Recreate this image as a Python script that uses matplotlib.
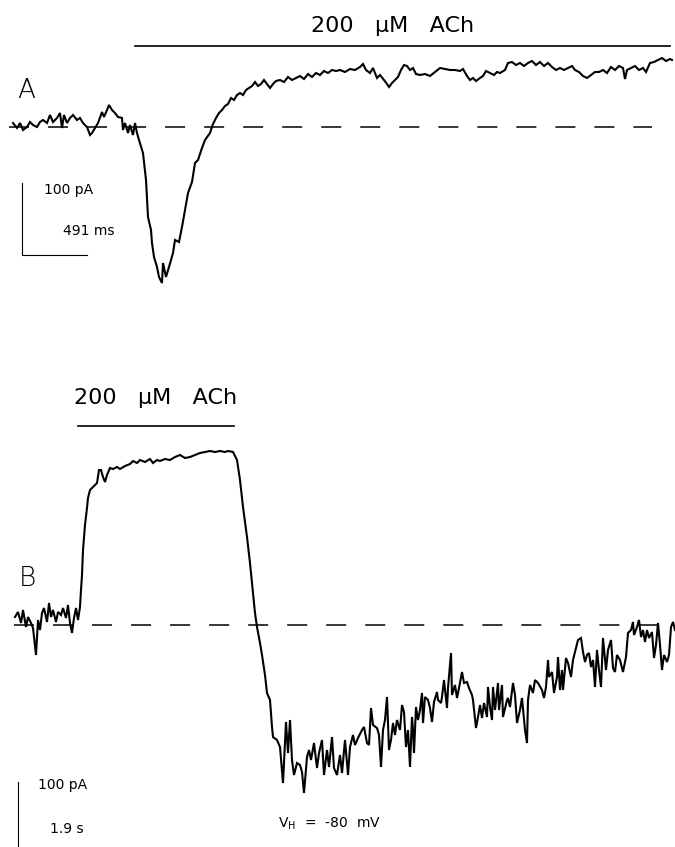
import matplotlib
matplotlib.use("Agg")
import matplotlib.pyplot as plt

plt.rcParams['lines.scale_dashes'] = False
plt.rcParams['font.family'] = ['DejaVu Sans']

# ---- Trace A (time, current) (image units, y downward) ----
a_t = [13, 17, 20, 23, 27, 30, 33, 37, 40, 43, 47, 50, 53, 57, 60, 62, 64, 67, 70, 73,
       77, 80, 83, 87, 90, 92, 95, 98, 102, 104, 107, 109, 112, 115, 118, 122, 123, 125,
       128, 130, 133, 135, 137, 139, 142, 143, 146, 148, 151, 152, 154, 157, 159, 162,
       163, 166, 169, 173, 175, 179, 182, 185, 188, 192, 195, 198, 202, 205, 210,
       213, 216, 219, 222, 225, 228, 231, 234, 237, 240, 243, 246, 249, 252, 255, 258,
       261, 264, 267, 270, 273, 276, 280, 284, 288, 292, 296, 300, 304, 308, 312, 316,
       320, 324, 328, 332, 336, 340, 345, 350, 355, 360, 363, 366, 370, 373, 377, 380,
       384, 387, 389, 392, 395, 398, 401, 404, 407, 410, 413, 416, 420, 425, 430, 435,
       440, 445, 450, 455, 460, 463, 467, 470, 473, 476, 480, 483, 486, 490, 494, 497,
       500, 505, 508, 512, 516, 520, 524, 528, 532, 536, 540, 544, 548, 552, 556, 560,
       564, 568, 572, 575, 579, 583, 587, 591, 595, 599, 603, 607, 611, 615, 619, 623,
       625, 627, 631, 635, 639, 643, 646, 650, 654, 658, 662, 666, 670, 672]
a_i = [123, 128, 123, 130, 127, 122, 125, 127, 122, 120, 123, 115, 122, 118, 113, 128,
       115, 123, 118, 115, 120, 118, 123, 127, 135, 133, 128, 123, 112, 117, 110, 105,
       110, 113, 117, 118, 130, 123, 133, 125, 135, 123, 133, 140, 150, 153, 180, 217,
       230, 243, 257, 267, 277, 283, 263, 277, 267, 253, 240, 242, 227, 210, 193, 182,
       163, 160, 148, 140, 133,
       124, 118, 113, 110, 106, 104, 98, 100, 95, 93, 95, 90, 88, 86, 82, 86,
       84, 80, 84, 88, 84, 81, 80, 82, 77, 80, 78, 76, 79, 74, 77, 73,
       75, 71, 73, 70, 71, 70, 72, 69, 70, 67, 64, 70, 73, 68, 78, 75,
       80, 84, 87, 83, 80, 77, 70, 65, 66, 70, 68, 74, 75, 74, 76, 72,
       68, 69, 70, 70, 71, 69, 76, 80, 78, 81, 78, 76, 71, 73, 75, 72,
       73, 70, 63, 62, 65, 63, 66, 63, 61, 65, 62, 66, 63, 67, 70, 68,
       70, 68, 66, 70, 72, 76, 78, 75, 72, 72, 70, 73, 67, 70, 66, 68,
       79, 70, 68, 66, 70, 68, 72, 63, 62, 60, 58, 61, 59, 60]

# ---- Trace B ----
b_t = [15, 18, 21, 23, 26, 28, 31, 33, 36, 38, 40, 42, 44, 47, 49, 51, 53, 56, 58, 61,
       63, 66, 68, 70, 72, 74, 76, 78, 80, 81, 82, 83, 85, 87, 88, 90, 93, 97, 99, 101,
       103, 105, 107, 110, 113, 117, 120, 125, 130, 133, 137, 140, 145, 150, 153, 157,
       160, 165, 170, 175, 180, 185, 190, 195, 200, 205, 210, 215, 220, 225, 228, 233,
       237, 240, 243, 247, 250, 253, 255, 257, 260, 262, 265, 267, 270, 272, 273, 277,
       280, 283, 286, 288, 290, 292, 294, 297, 300, 302, 304, 307, 309, 311, 314, 317,
       319, 322, 324, 327, 329, 332, 334, 337, 340, 342, 345, 348, 350, 353, 355, 358,
       362, 364, 367, 369, 371, 373, 377, 379, 381, 383, 385, 387, 389, 391, 393, 395,
       397, 400, 402, 404, 406, 408, 410, 412, 413, 414, 416, 418, 420, 422, 423, 425,
       428, 430, 432, 434, 437, 438, 441, 442, 444, 447, 448, 451, 452, 455, 457, 459,
       462, 464, 467, 469, 472, 473, 476, 478, 480, 482, 484, 487, 488, 490, 492, 493,
       495, 498, 499, 502, 503, 507, 508, 510, 513, 515, 517, 520, 522, 525, 527, 528,
       530, 533, 535, 538, 542, 544, 546, 548, 549, 552, 554, 557, 558, 560, 562, 563,
       566, 568, 571, 573, 576, 578, 581, 583, 585, 587, 589, 591, 593, 595, 597, 599,
       601, 603, 606, 608, 611, 613, 615, 617, 620, 623, 626, 628, 631, 633, 634, 637,
       639, 641, 643, 645, 647, 649, 652, 654, 656, 658, 660, 662, 664, 667, 669, 671,
       673, 675]
b_i = [617, 612, 623, 610, 627, 617, 623, 628, 655, 620, 630, 613, 608, 622, 603, 617,
       610, 622, 612, 615, 608, 618, 605, 623, 633, 618, 608, 620, 607, 590, 575, 550,
       525, 508, 498, 490, 487, 483, 470, 470, 477, 482, 475, 468, 469, 467, 469, 466,
       464, 461, 463, 460, 462, 459, 463, 460, 461, 459, 460, 457, 455, 458, 457, 455,
       453, 452, 451, 452, 451, 452, 451, 452, 460, 480, 507, 537, 563, 593, 613, 627,
       643, 655, 675, 693, 700, 727, 737, 740, 747, 783, 722, 753, 720, 760, 775, 763,
       765, 772, 793, 757, 750, 760, 743, 768, 753, 740, 775, 750, 767, 737, 768, 775,
       755, 773, 740, 775, 747, 735, 745, 738, 730, 727, 743, 745, 708, 725, 728, 735,
       767, 730, 720, 697, 750, 740, 723, 735, 720, 730, 705, 712, 747, 730, 767, 717,
       730, 753, 707, 720, 710, 693, 723, 697, 700, 708, 722, 702, 692, 700, 703, 697,
       680, 708, 688, 653, 695, 685, 698, 688, 672, 683, 682, 688, 695, 700, 728, 717,
       705, 718, 703, 717, 687, 707, 720, 687, 710, 683, 710, 685, 717, 700, 698, 707,
       683, 695, 723, 710, 698, 730, 743, 700, 685, 693, 680, 683, 690, 698, 687, 660,
       677, 672, 693, 677, 657, 690, 670, 690, 658, 663, 677, 660, 648, 640, 638, 652,
       662, 655, 653, 667, 660, 687, 650, 670, 687, 638, 670, 650, 640, 668, 672, 655,
       660, 672, 657, 633, 630, 622, 635, 627, 620, 637, 630, 642, 630, 638, 632, 658,
       645, 623, 645, 670, 655, 662, 655, 627, 622, 630]

# ---- Annotation values ----
ach_label = "200   μM   ACh"
a_bar = (135, 670, 46)     # x-start, x-end, level of ACh application bar (panel A)
b_bar = (78, 234, 426)
a_base = 127
b_base = 625
a_scale_labels = ["100 pA", "491 ms"]
b_scale_labels = ["100 pA", "1.9 s"]
vh_label = r"V$_\mathregular{H}$  =  -80  mV"

W, H = 675, 847
fig = plt.figure(figsize=(W / 100, H / 100), dpi=100)
ax = fig.add_axes([0, 0, 1, 1])
ax.set_xlim(0, W)
ax.set_ylim(H, 0)
ax.axis('off')

k = 'black'
# traces
ax.plot(a_t, a_i, color=k, lw=1.5, solid_joinstyle='miter')
ax.plot(b_t, b_i, color=k, lw=1.5, solid_joinstyle='miter')

# baselines (dashed)
dash = (0, (14.4, 13.7))
ax.plot([9, 652], [a_base, a_base], color=k, lw=1.1, linestyle=dash)
ax.plot([14, 660], [b_base, b_base], color=k, lw=1.1, linestyle=dash)

# application bars
ax.plot([a_bar[0], a_bar[1]], [a_bar[2], a_bar[2]], color=k, lw=1.2)
ax.plot([b_bar[0], b_bar[1]], [b_bar[2], b_bar[2]], color=k, lw=1.2)

tfont = dict(family='DejaVu Sans', color=k)
ax.text(393, 26, ach_label, fontsize=16, ha='center', va='center', **tfont)
ax.text(156, 398, ach_label, fontsize=16, ha='center', va='center', **tfont)

# panel letters
ax.text(26, 91, "A", fontsize=19, ha='center', va='center', fontweight='light', **tfont)
ax.text(27, 579, "B", fontsize=19, ha='center', va='center', fontweight='light', **tfont)

# scale bars panel A
ax.plot([22, 22, 87], [183, 255, 255], color=k, lw=0.8)
ax.text(69, 190, a_scale_labels[0], fontsize=10, ha='center', va='center', **tfont)
ax.text(89, 231, a_scale_labels[1], fontsize=10, ha='center', va='center', **tfont)

# scale bar panel B
ax.plot([18, 18], [782, 847], color=k, lw=0.8)
ax.text(63, 785, b_scale_labels[0], fontsize=10, ha='center', va='center', **tfont)
ax.text(67, 829, b_scale_labels[1], fontsize=10, ha='center', va='center', **tfont)
ax.text(329, 824, vh_label, fontsize=10, ha='center', va='center', **tfont)

fig.savefig("out.png", dpi=100)
